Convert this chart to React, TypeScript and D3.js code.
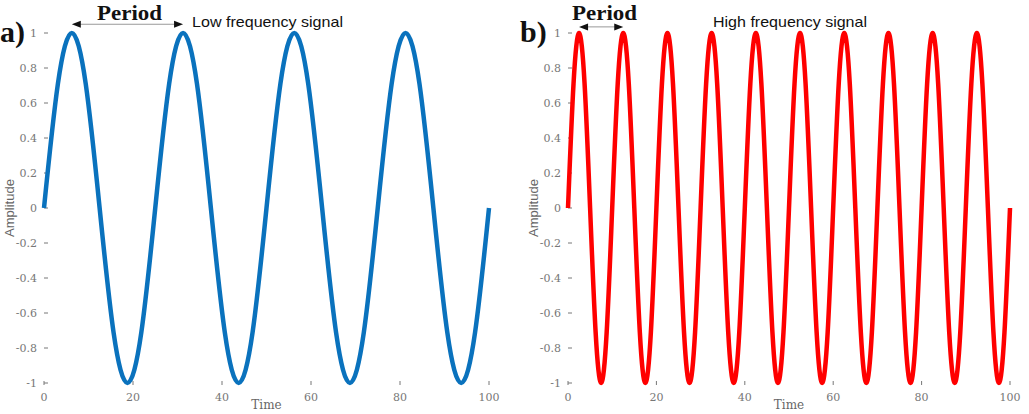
import React from "react";
import * as d3 from "d3";

const lowTime = [
  0, 3.125, 6.25, 9.375, 12.5, 15.625, 18.75, 21.875, 25, 28.125, 31.25, 34.375, 37.5, 40.625, 43.75, 46.875,
  50, 53.125, 56.25, 59.375, 62.5, 65.625, 68.75, 71.875, 75, 78.125, 81.25, 84.375, 87.5, 90.625, 93.75, 96.875, 100,
];
const lowAmp = [
  0, 0.71, 1, 0.71, 0, -0.71, -1, -0.71, 0, 0.71, 1, 0.71, 0, -0.71, -1, -0.71,
  0, 0.71, 1, 0.71, 0, -0.71, -1, -0.71, 0, 0.71, 1, 0.71, 0, -0.71, -1, -0.71, 0,
];

const highTime = [
  0, 1.25, 2.5, 3.75, 5, 6.25, 7.5, 8.75, 10, 11.25, 12.5, 13.75, 15, 16.25, 17.5, 18.75,
  20, 21.25, 22.5, 23.75, 25, 26.25, 27.5, 28.75, 30, 31.25, 32.5, 33.75, 35, 36.25, 37.5, 38.75,
  40, 41.25, 42.5, 43.75, 45, 46.25, 47.5, 48.75, 50, 51.25, 52.5, 53.75, 55, 56.25, 57.5, 58.75,
  60, 61.25, 62.5, 63.75, 65, 66.25, 67.5, 68.75, 70, 71.25, 72.5, 73.75, 75, 76.25, 77.5, 78.75,
  80, 81.25, 82.5, 83.75, 85, 86.25, 87.5, 88.75, 90, 91.25, 92.5, 93.75, 95, 96.25, 97.5, 98.75, 100,
];
const highAmp = [
  0, 0.71, 1, 0.71, 0, -0.71, -1, -0.71, 0, 0.71, 1, 0.71, 0, -0.71, -1, -0.71,
  0, 0.71, 1, 0.71, 0, -0.71, -1, -0.71, 0, 0.71, 1, 0.71, 0, -0.71, -1, -0.71,
  0, 0.71, 1, 0.71, 0, -0.71, -1, -0.71, 0, 0.71, 1, 0.71, 0, -0.71, -1, -0.71,
  0, 0.71, 1, 0.71, 0, -0.71, -1, -0.71, 0, 0.71, 1, 0.71, 0, -0.71, -1, -0.71,
  0, 0.71, 1, 0.71, 0, -0.71, -1, -0.71, 0, 0.71, 1, 0.71, 0, -0.71, -1, -0.71, 0,
];

const xTicks = [0, 20, 40, 60, 80, 100];
const xTickLabels = ["0", "20", "40", "60", "80", "100"];
const yTicks = [-1, -0.8, -0.6, -0.4, -0.2, 0, 0.2, 0.4, 0.6, 0.8, 1];
const yTickLabels = ["-1", "-0.8", "-0.6", "-0.4", "-0.2", "0", "0.2", "0.4", "0.6", "0.8", "1"];

// period arrows: from one peak to the next
const lowPeriod = [6.25, 31.25];
const highPeriod = [2.5, 12.5];

const tickFont = "'DejaVu Serif', serif";

const Panel = ({ time, amp, color, left, right, tag, tagX, title, titleX, titleLen, period, arrowY, periodX }) => {
  const x = d3.scaleLinear().domain([0, 100]).range([left, right]);
  const y = d3.scaleLinear().domain([-1, 1]).range([383, 33]);
  const pts = time.map((t, i) => [t, amp[i]]);
  const line = d3.line().x((d) => x(d[0])).y((d) => y(d[1])).curve(d3.curveNatural);
  const ay = y(arrowY);
  const x1 = x(period[0]);
  const x2 = x(period[1]);
  const mid = (left + right) / 2;
  const yc = y(0);

  return (
    <g>
      {/* y ticks */}
      {yTicks.map((v, i) => (
        <g key={"y" + i}>
          <line x1={left} x2={left + 4} y1={y(v)} y2={y(v)} stroke="#777" strokeWidth={1} />
          <text x={left - 7} y={y(v)} dy="0.35em" textAnchor="end" fontFamily={tickFont} fontSize={11} fill="#777">
            {yTickLabels[i]}
          </text>
        </g>
      ))}
      {/* x ticks */}
      {xTicks.map((v, i) => (
        <g key={"x" + i}>
          <line x1={x(v)} x2={x(v)} y1={385} y2={381} stroke="#777" strokeWidth={1} />
          <text x={x(v)} y={401} textAnchor="middle" fontFamily={tickFont} fontSize={11} fill="#777">
            {xTickLabels[i]}
          </text>
        </g>
      ))}
      <text x={mid} y={409} textAnchor="middle" fontFamily={tickFont} fontSize={12} fill="#666">
        Time
      </text>
      <text
        transform={`translate(${left - 30},${yc}) rotate(-90)`}
        textAnchor="middle"
        fontFamily="'Liberation Sans', Arial, sans-serif"
        fontSize={13}
        fill="#666"
      >
        Amplitude
      </text>

      <path d={line(pts)} fill="none" stroke={color} strokeWidth={4.5} strokeLinejoin="round" />

      {/* period annotation */}
      <line x1={x1 + 6} x2={x2 - 6} y1={ay} y2={ay} stroke="#999" strokeWidth={1} />
      <path d={`M${x1},${ay} l9,-3.5 l0,7 z`} fill="#111" />
      <path d={`M${x2},${ay} l-9,-3.5 l0,7 z`} fill="#111" />
      <text x={periodX} y={20} fontFamily="'Liberation Serif', 'Times New Roman', serif" fontWeight="bold" fontSize={22} textLength={65} lengthAdjust="spacingAndGlyphs" fill="#111">
        Period
      </text>
      <text x={titleX} y={27} fontFamily="'Liberation Sans', Arial, sans-serif" fontSize={15} textLength={titleLen} lengthAdjust="spacingAndGlyphs" fill="#111">
        {title}
      </text>
      <text x={tagX} y={42} fontFamily="'Liberation Serif', 'Times New Roman', serif" fontWeight="bold" fontSize={30} fill="#111">
        {tag}
      </text>
    </g>
  );
};

export default function App() {
  return (
    <svg width={1029} height={414} style={{ position: "absolute", left: 0, top: 0, background: "#fff" }}>
      <rect width={1029} height={414} fill="#fff" />
      <Panel
        time={lowTime}
        amp={lowAmp}
        color="#0a72bd"
        left={44}
        right={489}
        tag="a)"
        tagX={0}
        title="Low frequency signal"
        titleX={192}
        titleLen={151}
        period={lowPeriod}
        arrowY={1.05}
        periodX={97}
      />
      <Panel
        time={highTime}
        amp={highAmp}
        color="#ff0000"
        left={568}
        right={1010}
        tag="b)"
        tagX={520}
        title="High frequency signal"
        titleX={713}
        titleLen={154}
        period={highPeriod}
        arrowY={1.035}
        periodX={572}
      />
    </svg>
  );
}
